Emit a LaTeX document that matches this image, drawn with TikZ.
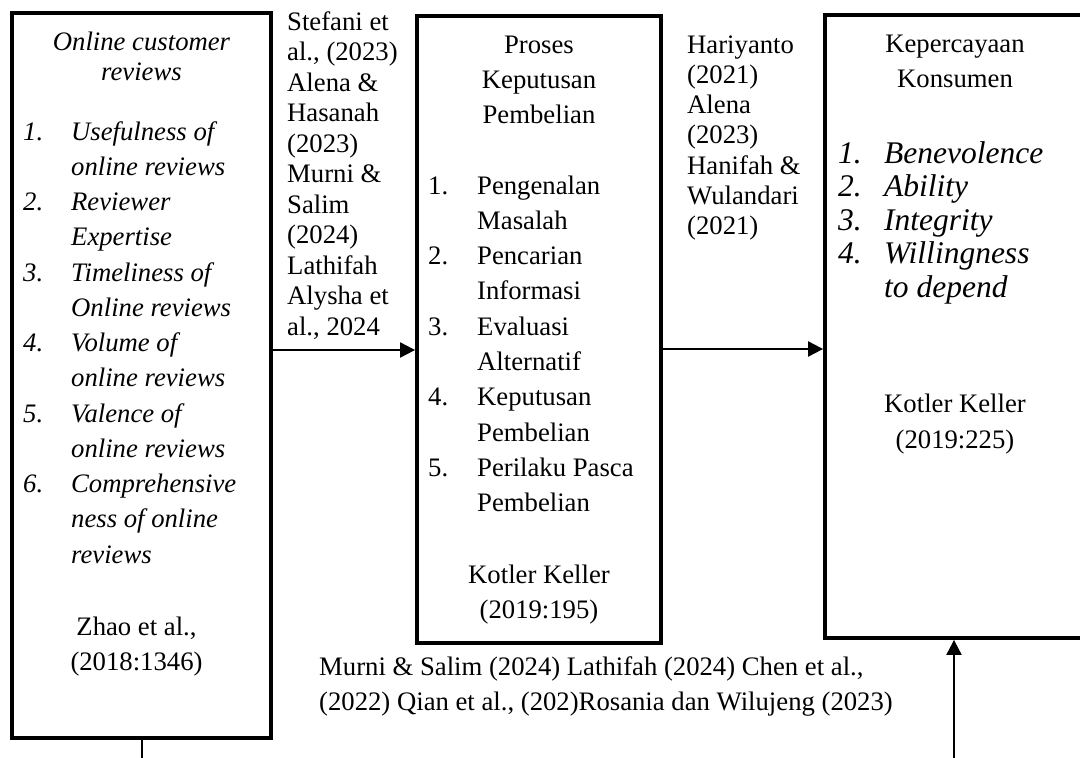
\documentclass[tikz,border=0pt]{standalone}
\usepackage{fontspec}
\setmainfont{Liberation Serif}
\usetikzlibrary{arrows.meta}
\newcommand\numlbl[2]{\makebox[#1][l]{#2}}
\begin{document}
\begin{tikzpicture}[x=1pt,y=-1pt,
  box/.style={draw, line width=3.8pt, inner sep=0pt},
  txt/.style={inner sep=0pt},
  ln/.style={line width=2pt},
  arr/.style={line width=2pt, -{Triangle[length=15pt,width=15pt]}},
]
\path[use as bounding box] (0,0) rectangle (1080,758);
\clip (0,0) rectangle (1080,758);

% boxes
\node[box, minimum width=259pt, minimum height=725pt] (b1) at (141.5,375.5) {};
\node[box, minimum width=244pt, minimum height=627pt] (b2) at (539,329.5) {};
\node[box, minimum width=260pt, minimum height=623pt] (b3) at (955,326.5) {};

% box 1 text
\node[txt, anchor=base, font=\fontsize{26.7}{30}\selectfont\itshape] (h1) at (141.5,50)
  {\begin{tabular}[t]{@{}c@{}}Online customer\\reviews\end{tabular}};
\node[txt, anchor=base west, font=\fontsize{26.7}{35.25}\selectfont\itshape] (l1) at (23,140)
  {\begin{tabular}[t]{@{}l@{}}
  \numlbl{48pt}{1.}Usefulness of\\
  \numlbl{48pt}{}online reviews\\
  \numlbl{48pt}{2.}Reviewer\\
  \numlbl{48pt}{}Expertise\\
  \numlbl{48pt}{3.}Timeliness of\\
  \numlbl{48pt}{}Online reviews\\
  \numlbl{48pt}{4.}Volume of\\
  \numlbl{48pt}{}online reviews\\
  \numlbl{48pt}{5.}Valence of\\
  \numlbl{48pt}{}online reviews\\
  \numlbl{48pt}{6.}Comprehensive\\
  \numlbl{48pt}{}ness of online\\
  \numlbl{48pt}{}reviews
  \end{tabular}};
\node[txt, anchor=base, font=\fontsize{26.7}{35}\selectfont] (r1) at (136.5,635)
  {\begin{tabular}[t]{@{}c@{}}Zhao et al.,\\(2018:1346)\end{tabular}};

% box 2 text
\node[txt, anchor=base, font=\fontsize{26.7}{35}\selectfont] (h2) at (539,53)
  {\begin{tabular}[t]{@{}c@{}}Proses\\Keputusan\\Pembelian\end{tabular}};
\node[txt, anchor=base west, font=\fontsize{26.7}{35.3}\selectfont] (l2) at (428,194)
  {\begin{tabular}[t]{@{}l@{}}
  \numlbl{49pt}{1.}Pengenalan\\
  \numlbl{49pt}{}Masalah\\
  \numlbl{49pt}{2.}Pencarian\\
  \numlbl{49pt}{}Informasi\\
  \numlbl{49pt}{3.}Evaluasi\\
  \numlbl{49pt}{}Alternatif\\
  \numlbl{49pt}{4.}Keputusan\\
  \numlbl{49pt}{}Pembelian\\
  \numlbl{49pt}{5.}Perilaku Pasca\\
  \numlbl{49pt}{}Pembelian
  \end{tabular}};
\node[txt, anchor=base, font=\fontsize{26.7}{35}\selectfont] (r2) at (539,583)
  {\begin{tabular}[t]{@{}c@{}}Kotler Keller\\(2019:195)\end{tabular}};

% box 3 text
\node[txt, anchor=base, font=\fontsize{26.7}{35}\selectfont] (h3) at (955,52)
  {\begin{tabular}[t]{@{}c@{}}Kepercayaan\\Konsumen\end{tabular}};
\node[txt, anchor=base west, font=\fontsize{31.5}{33.5}\selectfont\itshape] (l3) at (838,163)
  {\begin{tabular}[t]{@{}l@{}}
  \numlbl{46pt}{1.}Benevolence\\
  \numlbl{46pt}{2.}Ability\\
  \numlbl{46pt}{3.}Integrity\\
  \numlbl{46pt}{4.}Willingness\\
  \numlbl{46pt}{}to depend
  \end{tabular}};
\node[txt, anchor=base, font=\fontsize{26.7}{36}\selectfont] (r3) at (955,412)
  {\begin{tabular}[t]{@{}c@{}}Kotler Keller\\(2019:225)\end{tabular}};

% citation labels
\node[txt, anchor=base west, font=\fontsize{26.7}{30.5}\selectfont] (c1) at (287,30)
  {\begin{tabular}[t]{@{}l@{}}Stefani et\\al., (2023)\\Alena \&\\Hasanah\\(2023)\\Murni \&\\Salim\\(2024)\\Lathifah\\Alysha et\\al., 2024\end{tabular}};
\node[txt, anchor=base west, font=\fontsize{26.7}{30.3}\selectfont] (c2) at (687,53)
  {\begin{tabular}[t]{@{}l@{}}Hariyanto\\(2021)\\Alena\\(2023)\\Hanifah \&\\Wulandari\\(2021)\end{tabular}};
\node[txt, anchor=base west, font=\fontsize{26.7}{35}\selectfont] (c3) at (319,675)
  {\begin{tabular}[t]{@{}l@{}}Murni \& Salim (2024) Lathifah (2024) Chen et al.,\\(2022) Qian et al., (202)Rosania dan Wilujeng (2023)\end{tabular}};

% connectors
\coordinate (y1) at (0,350);
\coordinate (y2) at (0,349);
\coordinate (e1) at (142,760);
\coordinate (e2) at (954,760);
\draw[arr] (b1.east |- y1) -- (b2.west |- y1);
\draw[arr] (b2.east |- y2) -- (b3.west |- y2);
\draw[ln] (b1.south -| e1) -- (e1);
\draw[arr] (e2) -- (b3.south -| e2);
\end{tikzpicture}
\end{document}
